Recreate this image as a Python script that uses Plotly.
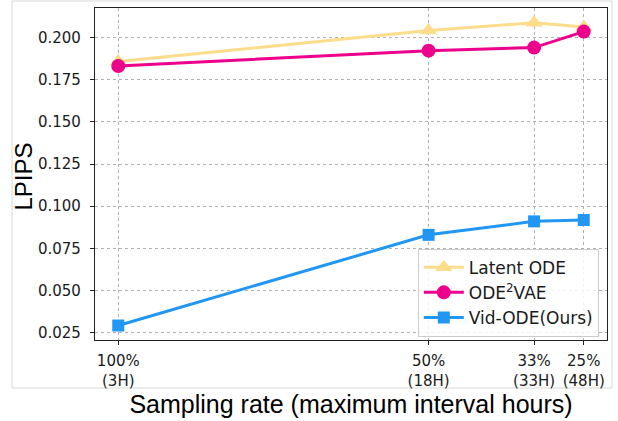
import plotly.graph_objects as go

rates = [100, 50, 33, 25]
tick_labels = ["100%<br>(3H)", "50%<br>(18H)", "33%<br>(33H)", "25%<br>(48H)"]
latent_ode = [0.1858, 0.2042, 0.2088, 0.2063]
ode2vae = [0.1832, 0.1923, 0.1941, 0.2036]
vid_ode = [0.0292, 0.0830, 0.0910, 0.0918]
y_ticks = [0.025, 0.05, 0.075, 0.1, 0.125, 0.15, 0.175, 0.2]
y_tick_labels = ["0.025", "0.050", "0.075", "0.100", "0.125", "0.150", "0.175", "0.200"]

fig = go.Figure()
fig.add_trace(go.Scatter(x=rates, y=latent_ode, name="Latent ODE", mode="lines+markers",
                         line=dict(color="#FDDC8A", width=3),
                         marker=dict(symbol="triangle-up", size=15, color="#FDDC8A")))
fig.add_trace(go.Scatter(x=rates, y=ode2vae, name="ODE<sup>2</sup>VAE", mode="lines+markers",
                         line=dict(color="#EC008C", width=3),
                         marker=dict(symbol="circle", size=14, color="#EC008C")))
fig.add_trace(go.Scatter(x=rates, y=vid_ode, name="Vid-ODE(Ours)", mode="lines+markers",
                         line=dict(color="#2196F3", width=3),
                         marker=dict(symbol="square", size=12, color="#2196F3")))

axis_common = dict(showline=True, linecolor="#222", linewidth=1.3, mirror=True,
                   ticks="outside", ticklen=4, tickcolor="#222", tickwidth=1.2,
                   showgrid=True, gridcolor="#b0b0b0", griddash="dot", gridwidth=1.3,
                   zeroline=False, automargin=False,
                   tickfont=dict(family="DejaVu Sans", size=15, color="#1a1a1a"))

fig.update_xaxes(range=[103.75, 21.25], tickvals=rates, ticktext=tick_labels,
                 ticklabelstandoff=3,
                 title=dict(text="Sampling rate (maximum interval hours)",
                            font=dict(family="Liberation Sans", size=25, color="black"), standoff=5),
                 **axis_common)
fig.update_yaxes(range=[0.0206, 0.2176], tickvals=y_ticks, ticktext=y_tick_labels,
                 ticklabelstandoff=6, **axis_common)

fig.update_layout(
    width=618, height=421,
    margin=dict(l=95, r=11, t=8, b=81),
    paper_bgcolor="white", plot_bgcolor="white",
    legend=dict(x=0.984, y=0.01, xanchor="right", yanchor="bottom",
                bordercolor="#cccccc", borderwidth=1, bgcolor="rgba(255,255,255,0.85)",
                font=dict(family="DejaVu Sans", size=17, color="#1a1a1a"),
                itemwidth=40, tracegroupgap=0),
    annotations=[dict(text="LPIPS", textangle=-90, xref="paper", yref="paper",
                      x=(23 - 95) / 512, y=(340 - 176.5) / 332, xanchor="center", yanchor="middle",
                      showarrow=False, font=dict(family="Liberation Sans", size=24, color="black"))],
    shapes=[dict(type="rect", xref="paper", yref="paper",
                 x0=(12 - 95) / 512, x1=(612 - 95) / 512,
                 y0=(340 - 388) / 332, y1=(340 - 1) / 332,
                 line=dict(color="#d8d8d8", width=1), layer="below")],
)

fig.write_html("out.html", config={"displayModeBar": False},
               post_script="document.body.style.margin='0';")
